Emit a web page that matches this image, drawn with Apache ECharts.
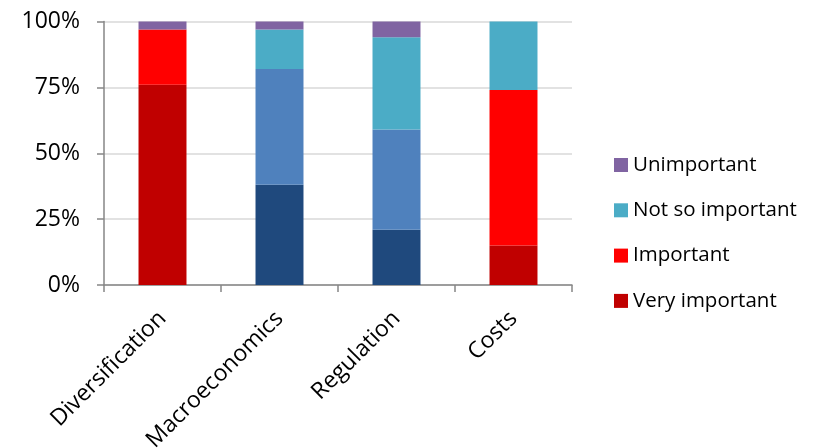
<!DOCTYPE html>
<html>
<head>
<meta charset="utf-8">
<script src="https://cdn.jsdelivr.net/npm/echarts@6/dist/echarts.min.js"></script>
<style>
  html, body { margin: 0; padding: 0; background: #fff; }
  #chart { width: 819px; height: 448px; }
</style>
</head>
<body>
<div id="chart"></div>
<script>
// Survey: importance of each factor (share of respondents, %)
const categories = ['Diversification', 'Macroeconomics', 'Regulation', 'Costs'];
const veryImportant = [76, 38, 21, 15];
const important = [21, 44, 38, 59];
const notSoImportant = [0, 15, 35, 26];
const unimportant = [3, 3, 6, 0];
const yTicks = ['0%', '25%', '50%', '75%', '100%'];

// Colour per level; Macroeconomics and Regulation use a blue scheme for the first two levels
const colVery = ['#C00000', '#1F497D', '#1F497D', '#C00000'];
const colImp = ['#FF0000', '#4F81BD', '#4F81BD', '#FF0000'];
const colNot = '#4BACC6';
const colUn = '#8064A2';

const font = 'Open Sans, Lato, sans-serif';

function coloured(values, colours) {
  return values.map((v, i) => ({ value: v, itemStyle: { color: Array.isArray(colours) ? colours[i] : colours } }));
}

const barBase = { type: 'bar', stack: 'total', barWidth: '41%', itemStyle: { borderColor: 'rgba(255,255,255,0.35)', borderWidth: 0.5 } };

const chart = echarts.init(document.getElementById('chart'), null, { renderer: 'canvas' });
chart.setOption({
  animation: false,
  backgroundColor: '#fff',
  grid: { left: 104, right: 247, top: 21.5, bottom: 163, containLabel: false, outerBoundsMode: 'none' },
  legend: {
    orient: 'vertical',
    left: 614,
    top: 151,
    padding: 0,
    itemGap: 17.3,
    itemWidth: 14,
    itemHeight: 14,
    icon: 'rect',
    textStyle: { fontFamily: font, fontSize: 20.5, color: '#000', padding: [0, 0, 0, 0], lineHeight: 28 },
    data: [
      { name: 'Unimportant', itemStyle: { color: colUn } },
      { name: 'Not so important', itemStyle: { color: colNot } },
      { name: 'Important', itemStyle: { color: '#FF0000' } },
      { name: 'Very important', itemStyle: { color: '#C00000' } }
    ]
  },
  xAxis: {
    type: 'category',
    data: categories,
    axisLine: { lineStyle: { color: '#868686', width: 1.5 } },
    axisTick: { show: true, length: 7, lineStyle: { color: '#868686', width: 1.5 } },
    axisLabel: { rotate: 45, fontFamily: font, fontSize: 23, color: '#000', margin: 30 }
  },
  yAxis: {
    type: 'value',
    min: 0,
    max: 100,
    interval: 25,
    axisLine: { show: true, lineStyle: { color: '#868686', width: 1.5 } },
    axisTick: { show: true, length: 7, lineStyle: { color: '#868686', width: 1.5 } },
    splitLine: { lineStyle: { color: '#D9D9D9', width: 1.5 } },
    axisLabel: {
      fontFamily: font, fontSize: 23, color: '#000', margin: 24,
      formatter: v => yTicks[Math.round(v / 25)]
    }
  },
  series: [
    Object.assign({}, barBase, { name: 'Very important', data: coloured(veryImportant, colVery), itemStyle: { color: '#C00000' } }),
    Object.assign({}, barBase, { name: 'Important', data: coloured(important, colImp), itemStyle: { color: '#FF0000' } }),
    Object.assign({}, barBase, { name: 'Not so important', data: coloured(notSoImportant, colNot), itemStyle: { color: colNot } }),
    Object.assign({}, barBase, { name: 'Unimportant', data: coloured(unimportant, colUn), itemStyle: { color: colUn } })
  ]
});
</script>
</body>
</html>
